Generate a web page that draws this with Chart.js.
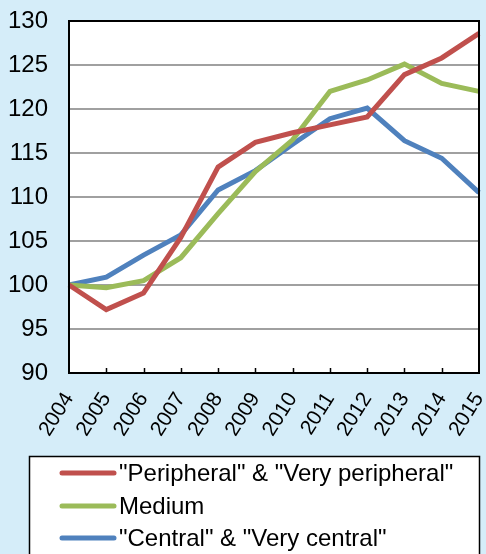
<!DOCTYPE html>
<html>
<head>
<meta charset="utf-8">
<script src="https://cdn.jsdelivr.net/npm/chart.js@4.4.1/dist/chart.umd.min.js"></script>
<style>
  html, body { margin: 0; padding: 0; background: #D5EDF9; }
  #wrap { width: 486px; height: 554px; position: relative; }
</style>
</head>
<body>
<div id="wrap"><canvas id="c" width="486" height="554"></canvas></div>
<script>
const years = ["2004","2005","2006","2007","2008","2009","2010","2011","2012","2013","2014","2015"];
const peripheral = [100, 97.2, 99.1, 105.4, 113.4, 116.2, 117.3, 118.2, 119.1, 123.9, 125.8, 128.6];
const medium     = [100, 99.7, 100.5, 103.1, 108.1, 112.9, 116.5, 122.0, 123.3, 125.1, 122.9, 122.0];
const central    = [100, 100.9, 103.4, 105.7, 110.8, 113.0, 116.0, 118.9, 120.1, 116.4, 114.4, 110.5];
const seriesNames = ['"Peripheral" & "Very peripheral"', 'Medium', '"Central" & "Very central"'];
const seriesColors = ['#C0504D', '#9BBB59', '#4F81BD'];
const yMin = 90, yMax = 130, yStep = 5;

const FONT = '"Liberation Sans", Arial, sans-serif';

const bgPlugin = {
  id: 'bg',
  beforeDraw(chart) {
    const ctx = chart.ctx, a = chart.chartArea;
    ctx.save();
    ctx.fillStyle = '#D5EDF9';
    ctx.fillRect(0, 0, chart.width, chart.height);
    ctx.fillStyle = '#FFFFFF';
    ctx.fillRect(a.left, a.top, a.right - a.left, a.bottom - a.top);
    ctx.restore();
  },
  afterDatasetsDraw(chart) {
    const ctx = chart.ctx, a = chart.chartArea, xs = chart.scales.x;
    ctx.save();
    ctx.strokeStyle = '#000';
    ctx.lineWidth = 2;
    ctx.strokeRect(a.left, a.top, a.right - a.left, a.bottom - a.top);
    ctx.lineWidth = 1.5;
    for (let i = 1; i < years.length - 1; i++) {
      const x = Math.round(xs.getPixelForTick(i)) + 0.5;
      ctx.beginPath();
      ctx.moveTo(x, a.bottom);
      ctx.lineTo(x, a.bottom - 5);
      ctx.stroke();
    }
    ctx.restore();
  },
  afterDraw(chart) {
    const ctx = chart.ctx;
    ctx.save();
    const bx = 29.5, by = 456.5, bw = 450, bh = 120;
    ctx.fillStyle = '#FFFFFF';
    ctx.fillRect(bx, by, bw, bh);
    ctx.strokeStyle = '#000';
    ctx.lineWidth = 1.5;
    ctx.strokeRect(bx, by, bw, bh);
    const rows = [473, 506, 538];
    chart.data.datasets.forEach((ds, i) => {
      const y = rows[i];
      ctx.strokeStyle = ds.borderColor;
      ctx.lineWidth = 5;
      ctx.lineCap = 'round';
      ctx.beginPath();
      ctx.moveTo(62, y);
      ctx.lineTo(114, y);
      ctx.stroke();
      ctx.fillStyle = '#000';
      ctx.font = '24px ' + FONT;
      ctx.textBaseline = 'middle';
      ctx.textAlign = 'left';
      ctx.fillText(ds.label, 119, y + 1);
    });
    ctx.restore();
  }
};

const datasets = [peripheral, medium, central].map((d, i) => ({
  label: seriesNames[i],
  data: d,
  borderColor: seriesColors[i],
  backgroundColor: seriesColors[i],
  borderWidth: 5,
  pointRadius: 0,
  tension: 0,
  fill: false
}));

new Chart(document.getElementById('c'), {
  type: 'line',
  data: { labels: years, datasets },
  plugins: [bgPlugin],
  options: {
    responsive: false,
    animation: false,
    events: [],
    layout: { padding: { left: 0, right: 7, top: 21, bottom: 98 } },
    plugins: { legend: { display: false }, tooltip: { enabled: false } },
    scales: {
      x: {
        offset: false,
        grid: { display: false, drawTicks: false },
        border: { display: true, color: '#000', width: 2 },
        ticks: {
          color: '#000',
          font: { family: FONT, size: 21 },
          minRotation: 58, maxRotation: 58,
          autoSkip: false,
          padding: 15
        },
        afterFit(scale) {
          scale.height = 83;
          scale.paddingLeft = 0; scale.paddingRight = 0;
        }
      },
      y: {
        min: yMin, max: yMax,
        grid: { color: '#A0A0A0', lineWidth: 2, drawTicks: false },
        border: { display: true, color: '#000', width: 2 },
        ticks: {
          stepSize: yStep,
          color: '#000',
          font: { family: FONT, size: 24 },
          padding: 21
        },
        afterFit(scale) {
          scale.width = 69;
          scale.paddingTop = 0; scale.paddingBottom = 0;
        }
      }
    }
  }
});
</script>
</body>
</html>
